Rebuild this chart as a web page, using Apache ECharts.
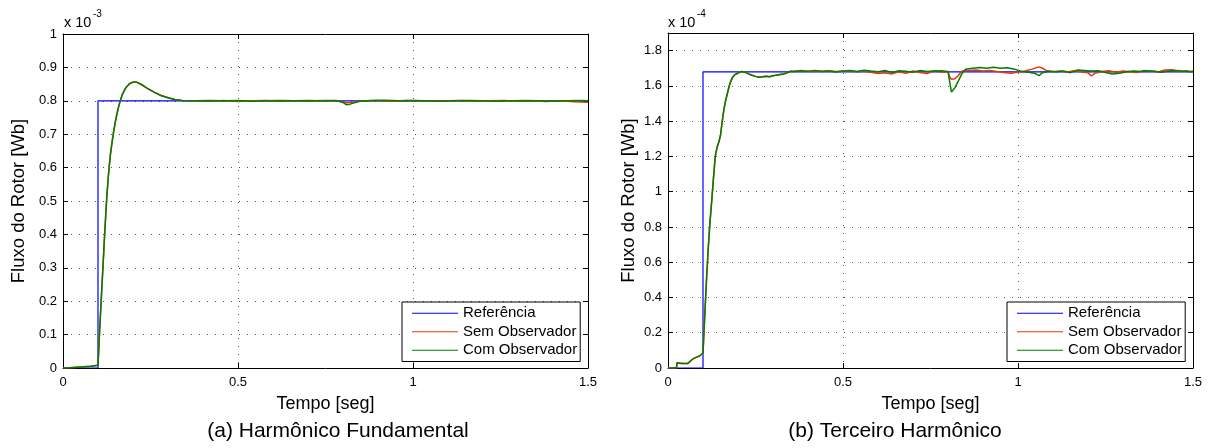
<!DOCTYPE html>
<html><head><meta charset="utf-8">
<script src="https://cdn.jsdelivr.net/npm/echarts@6/dist/echarts.min.js"></script>
<style>html,body{margin:0;padding:0;background:#fff;}#c{width:1214px;height:448px;}</style>
</head><body><div id="c"></div>
<script>
const FONT = '"Liberation Sans", Arial, Helvetica, sans-serif';
const seriesNames = ['Referência', 'Sem Observador', 'Com Observador'];
const seriesColors = ['#0000ff', '#e8360e', '#008000'];
const xLabel = 'Tempo [seg]';
const yLabel = 'Fluxo do Rotor [Wb]';
const captions = ['(a) Harmônico Fundamental', '(b) Terceiro Harmônico'];
const scaleExponents = ['-3', '-4'];

// ---- (a) Harmônico Fundamental, values in 1e-3 Wb ----
const leftRef = [[0, 0], [0.1, 0], [0.1, 0.8], [1.5, 0.8]];
const leftTransient = [[0, 0], [0.02, 0.001], [0.05, 0.003], [0.08, 0.005], [0.1, 0.008], [0.105, 0.12], [0.11, 0.22], [0.115, 0.32], [0.12, 0.42], [0.125, 0.51], [0.13, 0.58], [0.135, 0.635], [0.14, 0.675], [0.145, 0.71], [0.15, 0.74], [0.155, 0.765], [0.16, 0.787], [0.165, 0.805], [0.17, 0.82], [0.18, 0.84], [0.19, 0.851], [0.2, 0.856], [0.21, 0.856], [0.22, 0.851], [0.23, 0.845], [0.24, 0.838], [0.26, 0.826], [0.28, 0.816], [0.3, 0.809], [0.32, 0.804], [0.34, 0.801], [0.36, 0.8]];
const leftSemSteady = [[0.38, 0.8], [0.42, 0.799], [0.46, 0.801], [0.5, 0.798], [0.54, 0.8], [0.58, 0.801], [0.62, 0.799], [0.66, 0.8], [0.7, 0.799], [0.74, 0.801], [0.78, 0.8], [0.8, 0.797], [0.81, 0.794], [0.82, 0.795], [0.84, 0.798], [0.87, 0.8], [0.9, 0.801], [0.94, 0.799], [0.98, 0.801], [1.02, 0.8], [1.06, 0.799], [1.1, 0.8], [1.14, 0.801], [1.18, 0.799], [1.22, 0.8], [1.26, 0.801], [1.3, 0.799], [1.34, 0.8], [1.38, 0.798], [1.42, 0.8], [1.46, 0.797], [1.5, 0.796]];
const leftComSteady = [[0.38, 0.8], [0.42, 0.801], [0.46, 0.8], [0.5, 0.801], [0.54, 0.799], [0.58, 0.8], [0.62, 0.801], [0.66, 0.8], [0.7, 0.801], [0.74, 0.8], [0.78, 0.801], [0.8, 0.795], [0.81, 0.788], [0.82, 0.79], [0.835, 0.795], [0.85, 0.799], [0.88, 0.801], [0.92, 0.802], [0.96, 0.8], [1.0, 0.801], [1.04, 0.8], [1.08, 0.799], [1.12, 0.8], [1.16, 0.801], [1.2, 0.8], [1.24, 0.799], [1.28, 0.8], [1.32, 0.801], [1.36, 0.8], [1.4, 0.799], [1.44, 0.8], [1.48, 0.801], [1.5, 0.8]];

// ---- (b) Terceiro Harmônico, values in 1e-4 Wb ----
const rightRef = [[0, 0], [0.1, 0], [0.1, 1.68], [1.5, 1.68]];
const rightTransient = [[0, 0], [0.024, 0], [0.026, 0.03], [0.04, 0.025], [0.056, 0.025], [0.06, 0.035], [0.07, 0.05], [0.08, 0.06], [0.09, 0.068], [0.1, 0.085], [0.105, 0.3], [0.11, 0.5], [0.115, 0.68], [0.12, 0.83], [0.125, 0.95], [0.13, 1.08], [0.135, 1.2], [0.14, 1.25], [0.145, 1.28], [0.15, 1.32], [0.155, 1.4], [0.16, 1.47], [0.165, 1.52], [0.17, 1.56], [0.175, 1.6], [0.18, 1.63], [0.185, 1.65], [0.19, 1.662], [0.2, 1.673], [0.21, 1.682], [0.22, 1.678], [0.23, 1.668], [0.24, 1.66], [0.25, 1.654], [0.26, 1.649], [0.27, 1.652], [0.28, 1.655], [0.29, 1.652], [0.3, 1.657], [0.31, 1.661], [0.32, 1.664], [0.33, 1.667], [0.34, 1.674], [0.35, 1.683]];
const rightComSteady = [[0.36, 1.682], [0.38, 1.686], [0.4, 1.683], [0.42, 1.688], [0.44, 1.681], [0.46, 1.686], [0.48, 1.679], [0.5, 1.684], [0.52, 1.687], [0.54, 1.682], [0.56, 1.689], [0.58, 1.684], [0.6, 1.68], [0.62, 1.688], [0.64, 1.676], [0.66, 1.686], [0.68, 1.683], [0.7, 1.678], [0.72, 1.687], [0.74, 1.681], [0.76, 1.684], [0.78, 1.686], [0.8, 1.682], [0.805, 1.62], [0.81, 1.565], [0.82, 1.59], [0.83, 1.63], [0.84, 1.67], [0.85, 1.695], [0.87, 1.7], [0.89, 1.705], [0.91, 1.7], [0.93, 1.706], [0.95, 1.7], [0.97, 1.703], [0.99, 1.695], [1.01, 1.682], [1.03, 1.678], [1.05, 1.67], [1.06, 1.658], [1.07, 1.675], [1.09, 1.683], [1.11, 1.68], [1.13, 1.684], [1.15, 1.675], [1.17, 1.69], [1.19, 1.688], [1.21, 1.684], [1.23, 1.686], [1.25, 1.676], [1.27, 1.668], [1.29, 1.672], [1.31, 1.68], [1.33, 1.684], [1.35, 1.681], [1.37, 1.686], [1.39, 1.683], [1.41, 1.678], [1.43, 1.685], [1.45, 1.688], [1.47, 1.684], [1.49, 1.681], [1.5, 1.683]];
const rightSemSteady = [[0.36, 1.683], [0.38, 1.687], [0.4, 1.682], [0.42, 1.686], [0.44, 1.683], [0.46, 1.684], [0.48, 1.681], [0.5, 1.685], [0.52, 1.684], [0.54, 1.68], [0.56, 1.684], [0.58, 1.678], [0.6, 1.67], [0.62, 1.674], [0.64, 1.668], [0.66, 1.68], [0.68, 1.672], [0.7, 1.684], [0.72, 1.676], [0.74, 1.67], [0.76, 1.686], [0.78, 1.679], [0.8, 1.68], [0.805, 1.65], [0.81, 1.638], [0.82, 1.64], [0.83, 1.66], [0.84, 1.685], [0.86, 1.688], [0.88, 1.69], [0.9, 1.684], [0.92, 1.688], [0.94, 1.681], [0.96, 1.676], [0.98, 1.672], [1.0, 1.679], [1.02, 1.684], [1.04, 1.695], [1.06, 1.708], [1.07, 1.7], [1.08, 1.688], [1.1, 1.68], [1.12, 1.684], [1.14, 1.679], [1.16, 1.686], [1.18, 1.68], [1.2, 1.674], [1.21, 1.656], [1.22, 1.672], [1.24, 1.682], [1.26, 1.686], [1.28, 1.678], [1.3, 1.684], [1.32, 1.68], [1.34, 1.676], [1.36, 1.688], [1.38, 1.684], [1.4, 1.679], [1.42, 1.69], [1.44, 1.692], [1.46, 1.682], [1.48, 1.686], [1.5, 1.678]];

const leftSem = leftTransient.concat(leftSemSteady);
const leftCom = leftTransient.concat(leftComSteady);
const rightSem = rightTransient.concat(rightSemSteady);
const rightCom = rightTransient.concat(rightComSteady);

const chart = echarts.init(document.getElementById('c'), null, {renderer: 'canvas'});

const axisLineStyle = {color: '#000', width: 1};
const gridLine = {show: true, lineStyle: {color: '#555', type: [1, 7], width: 1}};
const tick = {show: true, inside: true, length: 5, lineStyle: {color: '#000'}};
const labelStyle = {color: '#000', fontSize: 13, fontFamily: FONT};
const xNameStyle = {color: '#000', fontSize: 18, fontFamily: FONT};
const yNameStyle = {color: '#000', fontSize: 18.5, fontFamily: FONT};

function xAxes(gi) {
  return [
    {type: 'value', gridIndex: gi, min: 0, max: 1.5, interval: 0.5, position: 'bottom',
     axisLine: {show: true, onZero: false, lineStyle: axisLineStyle}, axisTick: tick,
     axisLabel: Object.assign({margin: 8}, labelStyle), splitLine: gridLine,
     name: xLabel, nameLocation: 'middle', nameGap: 27, nameTextStyle: xNameStyle},
    {type: 'value', gridIndex: gi, min: 0, max: 1.5, interval: 0.5, position: 'top',
     axisLine: {show: true, onZero: false, lineStyle: axisLineStyle}, axisTick: tick,
     axisLabel: {show: false}, splitLine: {show: false}}
  ];
}
function yAxes(gi, max, interval, gap) {
  return [
    {type: 'value', gridIndex: gi, min: 0, max: max, interval: interval, position: 'left',
     axisLine: {show: true, onZero: false, lineStyle: axisLineStyle}, axisTick: tick,
     axisLabel: Object.assign({margin: 6, showMaxLabel: max === 1}, labelStyle), splitLine: gridLine,
     name: yLabel, nameLocation: 'middle', nameGap: gap, nameTextStyle: yNameStyle},
    {type: 'value', gridIndex: gi, min: 0, max: max, interval: interval, position: 'right',
     axisLine: {show: true, onZero: false, lineStyle: axisLineStyle}, axisTick: tick,
     axisLabel: {show: false}, splitLine: {show: false}}
  ];
}
function mkSeries(name, color, data, xi, yi, w) {
  return {type: 'line', name: name, xAxisIndex: xi, yAxisIndex: yi, data: data,
    symbol: 'none', showSymbol: false, color: color, lineStyle: {color: color, width: w},
    itemStyle: {color: color}, animation: false, silent: true};
}
function mkLegend(left) {
  return {left: left, top: 302, orient: 'vertical', data: seriesNames, icon: 'rect',
    itemWidth: 46, itemHeight: 1, itemGap: 0, padding: [2, 3, 2, 10],
    borderColor: '#000', borderWidth: 1, borderRadius: 0,
    backgroundColor: '#fff', selectedMode: false, align: 'left',
    textStyle: {color: '#000', fontSize: 15, fontFamily: FONT, lineHeight: 18.5}};
}

const option = {
  animation: false,
  backgroundColor: '#fff',
  grid: [
    {left: 63, top: 34, width: 525, height: 334},
    {left: 668, top: 33, width: 525, height: 335}
  ],
  xAxis: xAxes(0).concat(xAxes(1)),
  yAxis: yAxes(0, 1, 0.1, 35).concat(yAxes(1, 1.9, 0.2, 30)),
  legend: [mkLegend(402), mkLegend(1007)],
  series: [
    mkSeries(seriesNames[0], seriesColors[0], leftRef, 0, 0, 1.2),
    mkSeries(seriesNames[1], seriesColors[1], leftSem, 0, 0, 1.5),
    mkSeries(seriesNames[2], seriesColors[2], leftCom, 0, 0, 1.5),
    mkSeries(seriesNames[0], seriesColors[0], rightRef, 2, 2, 1.2),
    mkSeries(seriesNames[1], seriesColors[1], rightSem, 2, 2, 1.5),
    mkSeries(seriesNames[2], seriesColors[2], rightCom, 2, 2, 1.5)
  ],
  graphic: [
    {type: 'text', left: 64, top: 15, style: {text: 'x 10', fontSize: 14.5, fontFamily: FONT, fill: '#000'}},
    {type: 'text', left: 93, top: 9, style: {text: scaleExponents[0], fontSize: 10, fontFamily: FONT, fill: '#000'}},
    {type: 'text', left: 668, top: 15, style: {text: 'x 10', fontSize: 14.5, fontFamily: FONT, fill: '#000'}},
    {type: 'text', left: 697, top: 9, style: {text: scaleExponents[1], fontSize: 10, fontFamily: FONT, fill: '#000'}},
    {type: 'text', x: 338, y: 431, style: {text: captions[0], fontSize: 21, fontFamily: FONT, fill: '#000', align: 'center', verticalAlign: 'middle'}},
    {type: 'text', x: 895, y: 431, style: {text: captions[1], fontSize: 21, fontFamily: FONT, fill: '#000', align: 'center', verticalAlign: 'middle'}}
  ]
};
chart.setOption(option);
</script>
</body></html>
